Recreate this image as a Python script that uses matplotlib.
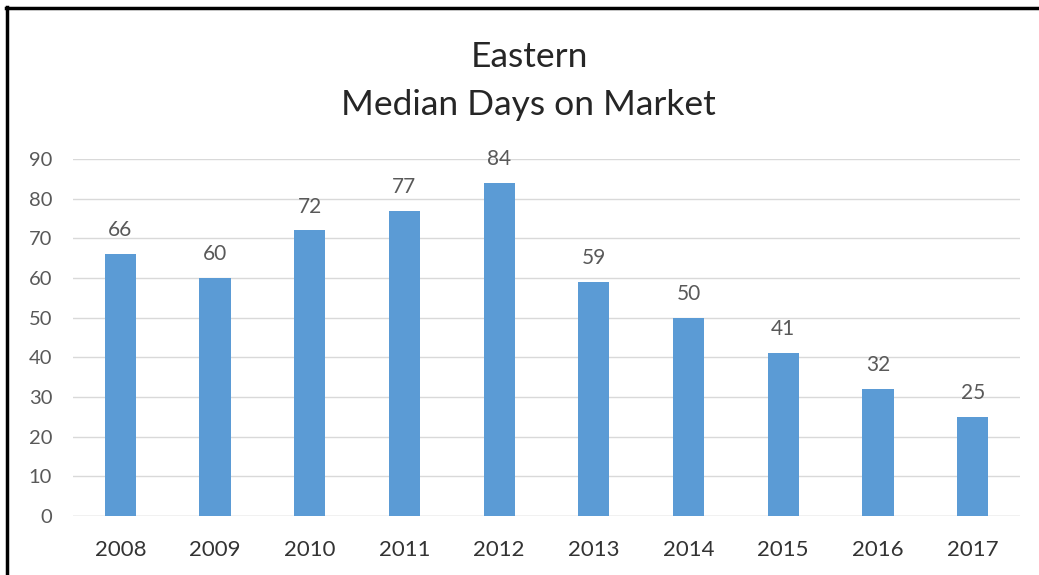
import matplotlib
matplotlib.use("Agg")
import matplotlib.pyplot as plt
from matplotlib.lines import Line2D

years = ["2008", "2009", "2010", "2011", "2012", "2013", "2014", "2015", "2016", "2017"]
days = [66, 60, 72, 77, 84, 59, 50, 41, 32, 25]
yticks = [0, 10, 20, 30, 40, 50, 60, 70, 80, 90]

plt.rcParams['font.family'] = ['Lato', 'DejaVu Sans']

W, H = 1039, 575
fig = plt.figure(figsize=(W/100, H/100), dpi=100)
ax = fig.add_axes([73/W, 1-516/H, (1020-73)/W, (516-159)/H])

x = list(range(len(years)))
ax.bar(x, days, width=0.33, color="#5B9BD5", zorder=3)
for xi, v in zip(x, days):
    ax.annotate(str(v), (xi, v), xytext=(0, 10), textcoords="offset points",
                ha="center", va="bottom", fontsize=15, color="#595959")

ax.set_xlim(-0.5, len(years) - 0.5)
ax.set_ylim(0, 90)
ax.set_yticks(yticks)
ax.set_xticks(x)
ax.set_xticklabels(years, fontsize=16, color="#333333")
ax.tick_params(axis="y", labelsize=14.5, labelcolor="#595959", length=0, pad=15)
ax.tick_params(axis="x", length=0, pad=17)
ax.grid(axis="y", color="#D9D9D9", linewidth=1, zorder=0)
for s in ax.spines.values():
    s.set_visible(False)
ax.axhline(0, color="#D9D9D9", linewidth=1, zorder=1)

fig.text(529/W, 1-67/H, "Eastern", ha="center", va="baseline", fontsize=25.5, color="#262626")
fig.text(528/W, 1-115/H, "Median Days on Market", ha="center", va="baseline", fontsize=25.5, color="#262626")

fig.add_artist(Line2D([7/W, 7/W], [0, 1-7/H], color="black", linewidth=2.5, transform=fig.transFigure))
fig.add_artist(Line2D([6/W, 1], [1-8/H, 1-8/H], color="black", linewidth=2.5, transform=fig.transFigure))

fig.savefig("out.png", dpi=100)
